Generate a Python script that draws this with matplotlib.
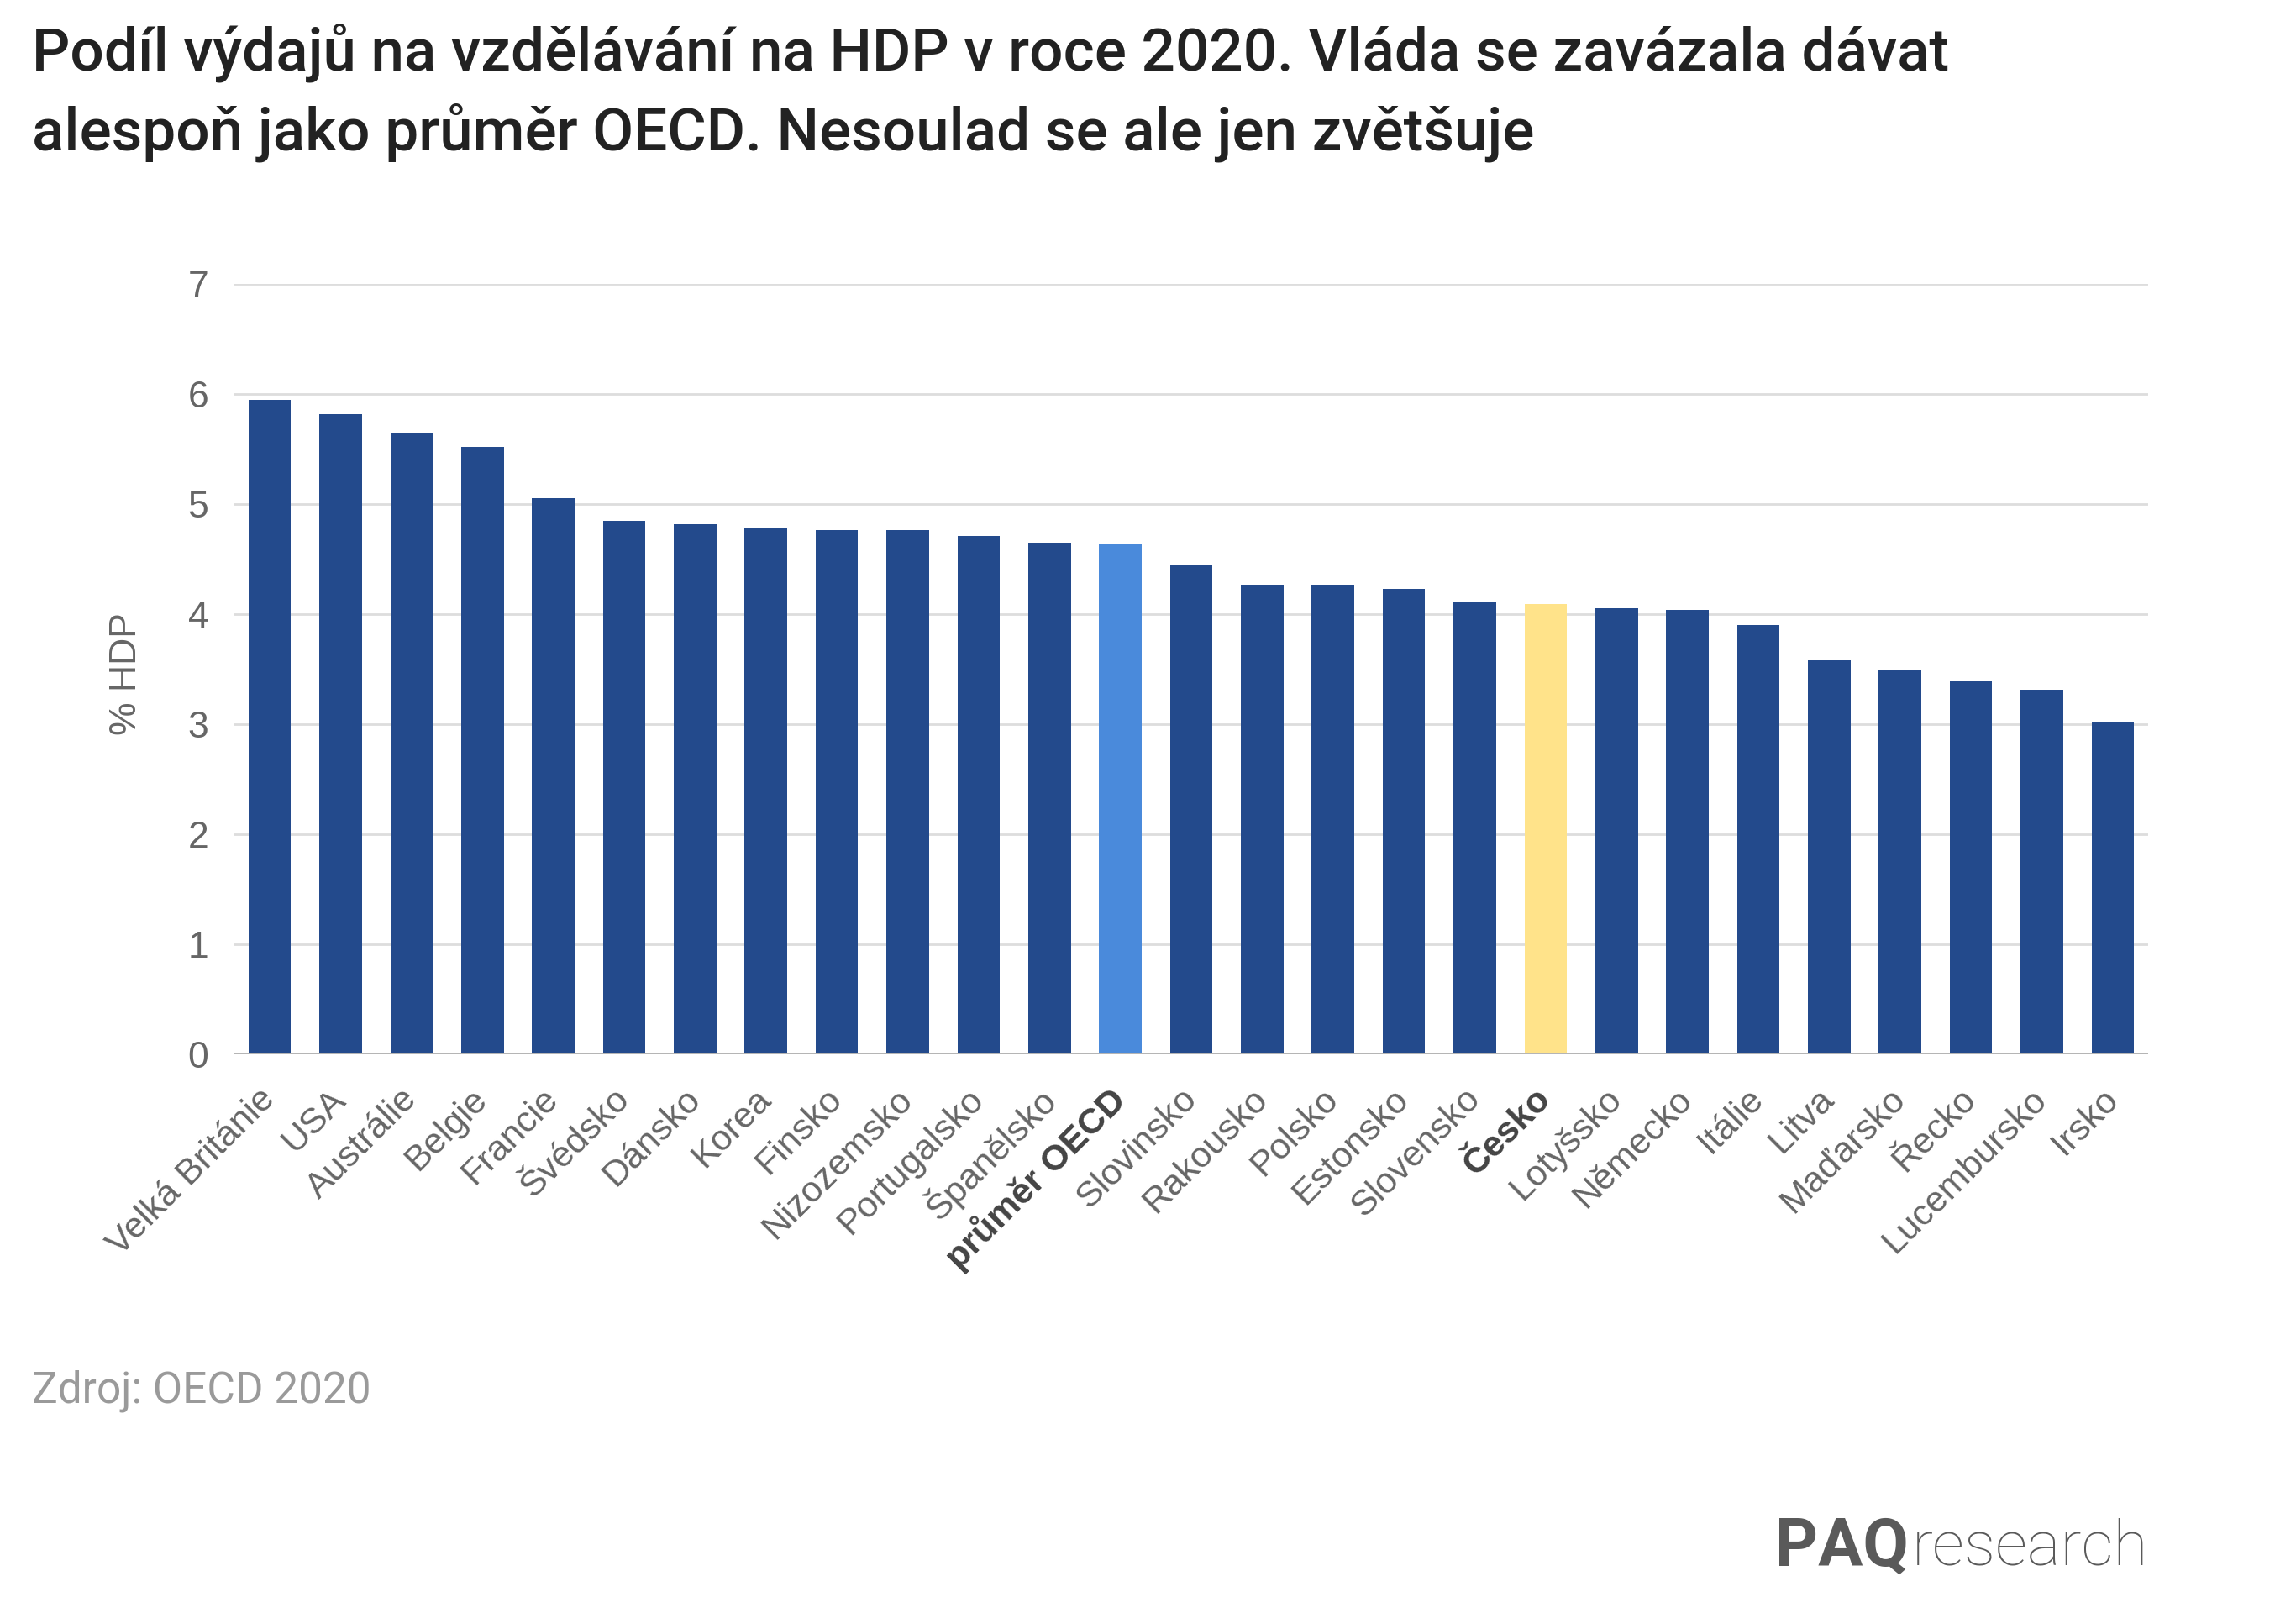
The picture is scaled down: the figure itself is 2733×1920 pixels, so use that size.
import matplotlib
matplotlib.use("Agg")
import matplotlib.pyplot as plt

countries = ["Velká Británie", "USA", "Austrálie", "Belgie", "Francie", "Švédsko",
             "Dánsko", "Korea", "Finsko", "Nizozemsko", "Portugalsko", "Španělsko",
             "průměr OECD", "Slovinsko", "Rakousko", "Polsko", "Estonsko", "Slovensko",
             "Česko", "Lotyšsko", "Německo", "Itálie", "Litva", "Maďarsko", "Řecko",
             "Lucembursko", "Irsko"]
values = [5.95, 5.82, 5.65, 5.52, 5.05, 4.85, 4.82, 4.79, 4.76, 4.76, 4.71, 4.65,
          4.63, 4.44, 4.27, 4.27, 4.23, 4.11, 4.09, 4.05, 4.04, 3.90, 3.58, 3.49,
          3.39, 3.31, 3.02]
yticks = [0, 1, 2, 3, 4, 5, 6, 7]

title = ("Podíl výdajů na vzdělávání na HDP v roce 2020. Vláda se zavázala dávat\n"
         "alespoň jako průměr OECD. Nesoulad se ale jen zvětšuje")
ylabel = "% HDP"
source = "Zdroj: OECD 2020"

DARK = "#234A8C"
OECD = "#4A8ADB"
CZ = "#FFE38A"
colors = [OECD if c == "průměr OECD" else CZ if c == "Česko" else DARK for c in countries]

W, H, DPI = 2733, 1920, 200
fig = plt.figure(figsize=(W / DPI, H / DPI), dpi=DPI)
fig.patch.set_facecolor("white")

left, right = 279 / W, 2557 / W
bottom, top = 1 - 1255 / H, 1 - 338 / H
ax = fig.add_axes([left, bottom, right - left, top - bottom])

x = list(range(len(countries)))
ax.bar(x, values, width=0.6, color=colors, zorder=3)
ax.set_xlim(-0.5, len(countries) - 0.5)
ax.set_ylim(0, 7)
ax.set_yticks(yticks)
ax.grid(axis="y", color="#dddddd", linewidth=1.0, zorder=0)
ax.axhline(0, color="#b5b5b5", linewidth=1.2, zorder=4)
for s in ax.spines.values():
    s.set_visible(False)
ax.tick_params(axis="both", length=0)
ax.tick_params(axis="y", pad=11, labelsize=16, labelcolor="#666666")
ax.set_yticklabels([str(t) for t in yticks], family="Liberation Sans")
ax.set_xticks(x)
ax.set_xticklabels(countries, rotation=45, ha="right", va="center",
                   rotation_mode="anchor", family="Liberation Sans",
                   fontsize=15.5, color="#666666")
ax.tick_params(axis="x", pad=17)
for lab in ax.get_xticklabels():
    if lab.get_text() in ("průměr OECD", "Česko"):
        lab.set_fontweight("bold")
        lab.set_color("#444444")

fig.text(150 / W, 1 - 802 / H, ylabel, rotation=90, ha="center", va="center",
         fontsize=16, color="#666666", family="Liberation Sans")

# Title: fit width
t = fig.text(38 / W, 1 - 28 / H, title, ha="left", va="top", fontsize=24,
             color="#222222", family="Roboto", fontweight="medium", linespacing=1.42)
fig.canvas.draw()
r = fig.canvas.get_renderer()
bb = t.get_window_extent(r)
t.set_fontsize(24 * (2284 / bb.width))

src = fig.text(38 / W, 1 - 1656 / H, source, ha="left", va="center", fontsize=18.5,
               color="#9a9a9a", family="Roboto")

res = fig.text(2557 / W, 1 - 1842 / H, "research", ha="right", va="center",
               fontsize=27, color="#5a5a5a", family="Roboto", fontweight="light")
fig.canvas.draw()
rb = res.get_window_extent(fig.canvas.get_renderer())
fig.text((rb.x0 - 4) / W, 1 - 1842 / H, "PAQ", ha="right", va="center",
         fontsize=28.5, color="#5a5a5a", family="Roboto", fontweight="bold")

fig.savefig("out.png", dpi=DPI, facecolor="white")
